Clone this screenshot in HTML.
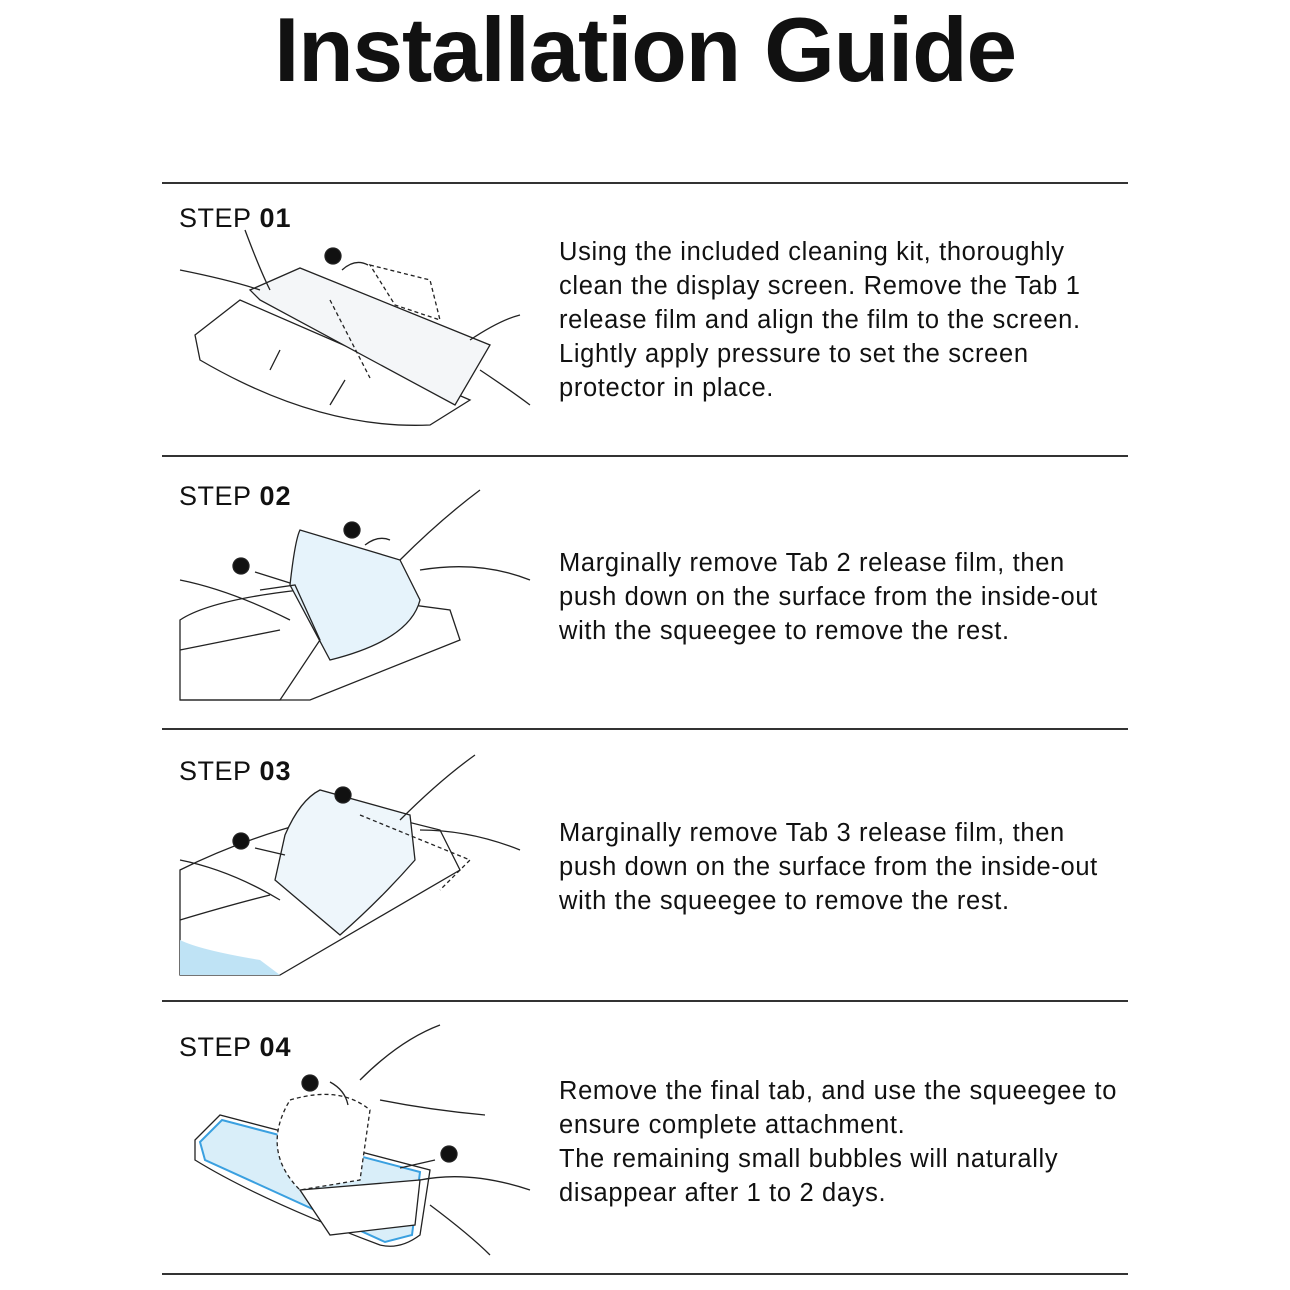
<!DOCTYPE html>
<html><head><meta charset="utf-8"><style>
body{margin:0;width:1290px;height:1290px;background:#fff;position:relative;font-family:"Liberation Sans",sans-serif;color:#111;overflow:hidden}
h1{position:absolute;top:-1px;left:0;width:1290px;text-align:center;margin:0;font-size:91px;font-weight:bold;letter-spacing:-1.2px}
.hr{position:absolute;left:162px;width:966px;height:1.5px;background:#333}
.step{position:absolute;left:179px;font-size:27px;letter-spacing:0.5px}
.step b{font-weight:900;margin-left:8px;letter-spacing:1px}
.txt{position:absolute;left:559px;font-size:25.5px;line-height:34px;letter-spacing:0.65px}
svg{position:absolute}
</style></head><body>
<h1>Installation Guide</h1>
<div class="hr" style="top:182px"></div>
<div class="hr" style="top:455px"></div>
<div class="hr" style="top:728px"></div>
<div class="hr" style="top:1000px"></div>
<div class="hr" style="top:1273px"></div>

<div class="step" style="top:203px">STEP<b>01</b></div>
<div class="step" style="top:481px">STEP<b>02</b></div>
<div class="step" style="top:756px">STEP<b>03</b></div>
<div class="step" style="top:1032px">STEP<b>04</b></div>

<div class="txt" style="top:235px">Using the included cleaning kit, thoroughly<br>clean the display screen. Remove the Tab 1<br>release film and align the film to the screen.<br>Lightly apply pressure to set the screen<br>protector in place.</div>
<div class="txt" style="top:546px">Marginally remove Tab 2 release film, then<br>push down on the surface from the inside-out<br>with the squeegee to remove the rest.</div>
<div class="txt" style="top:816px">Marginally remove Tab 3 release film, then<br>push down on the surface from the inside-out<br>with the squeegee to remove the rest.</div>
<div class="txt" style="top:1074px">Remove the final tab, and use the squeegee to<br>ensure complete attachment.<br>The remaining small bubbles will naturally<br>disappear after 1 to 2 days.</div>

<svg width="1290" height="1290" style="left:0;top:0" fill="none" stroke="#222" stroke-width="1.3">
<!-- step1 -->
<path d="M195 335 L240 300 L470 400 L430 425 Q320 430 200 360 Z"/>
<path d="M250 290 L300 268 L490 345 L455 405 L260 300 Z" fill="#f4f6f8"/>
<path d="M370 265 L430 280 L440 320 L395 305 Z" stroke-dasharray="4 3"/>
<path d="M330 300 L370 378" stroke-dasharray="4 3"/>
<path d="M180 270 Q230 280 260 290 M245 230 Q260 270 270 290 M470 340 Q500 320 520 315 M480 370 Q510 390 530 405"/>
<path d="M280 350 L270 370 M345 380 L330 405"/>
<circle cx="333" cy="256" r="8" fill="#111"/>
<path d="M342 270 Q355 258 368 265"/>
<!-- step2 -->
<path d="M180 700 L310 700 L460 640 L450 610 L300 590 Q210 600 180 620 Z"/>
<path d="M290 585 Q295 540 300 530 L400 560 L420 600 Q410 640 330 660 Z" fill="#e6f3fb"/>
<path d="M260 590 L295 585 L320 640 L280 700 L180 700" />
<path d="M180 580 Q230 590 290 620 M180 650 Q230 640 280 630 M400 560 Q440 520 480 490 M420 570 Q480 560 530 580"/>
<circle cx="352" cy="530" r="8" fill="#111"/><circle cx="241" cy="566" r="8" fill="#111"/>
<path d="M255 572 L290 583 M365 545 Q378 535 390 540"/>
<!-- step3 -->
<path d="M180 975 L280 975 L460 870 L440 830 L360 810 Q260 830 180 870 Z"/>
<path d="M285 835 Q300 800 320 790 L410 815 L415 860 Q380 900 340 935 L275 880 Z" fill="#eef6fb"/>
<path d="M180 940 Q200 950 260 960 L280 975 L180 975 Z" fill="#bfe3f5" stroke="none"/>
<path d="M180 860 Q230 870 280 900 M180 920 Q230 905 270 895 M400 820 Q440 780 475 755 M420 830 Q470 830 520 850"/>
<path d="M360 815 L470 860 L440 890" stroke-dasharray="4 3"/>
<circle cx="343" cy="795" r="8" fill="#111"/><circle cx="241" cy="841" r="8" fill="#111"/>
<path d="M255 848 L285 855"/>
<!-- step4 -->
<path d="M195 1140 L220 1115 L430 1170 L420 1235 Q400 1250 380 1245 Q260 1200 195 1160 Z"/>
<path d="M200 1142 L222 1120 L420 1172 L412 1235 L385 1242 L205 1160 Z" fill="#d9eef9" stroke="#3aa0e0" stroke-width="2"/>
<path d="M290 1100 Q340 1085 370 1110 L360 1180 L300 1190 Q260 1150 290 1100 Z" fill="#fff" stroke-dasharray="4 3"/>
<path d="M300 1190 L420 1180 L415 1225 L330 1235 Z" fill="#fff"/>
<path d="M360 1080 Q400 1040 440 1025 M380 1100 Q430 1110 485 1115 M420 1180 Q470 1170 530 1190 M430 1205 Q470 1235 490 1255"/>
<circle cx="310" cy="1083" r="8" fill="#111"/><circle cx="449" cy="1154" r="8" fill="#111"/>
<path d="M435 1160 L400 1168 M330 1082 Q345 1090 348 1105"/>
</svg>
</body></html>
